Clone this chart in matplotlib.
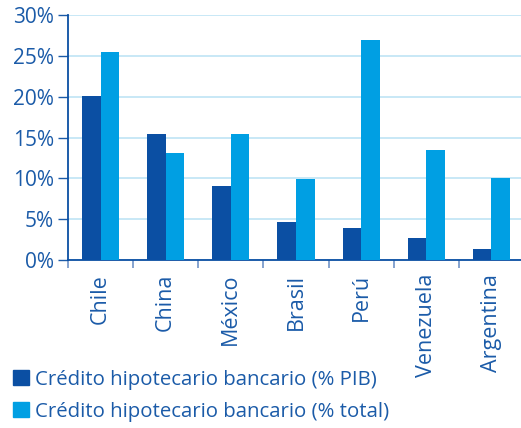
import matplotlib
matplotlib.use("Agg")
import matplotlib.pyplot as plt
import numpy as np
from matplotlib.patches import Patch

categories = ["Chile", "China", "México", "Brasil", "Perú", "Venezuela", "Argentina"]
pct_pib = [20.1, 15.4, 9.1, 4.7, 3.9, 2.7, 1.35]
pct_total = [25.5, 13.1, 15.4, 9.9, 26.9, 13.5, 10.0]
yticks = [0, 5, 10, 15, 20, 25, 30]
series_labels = ["Crédito hipotecario bancario (% PIB)",
                 "Crédito hipotecario bancario (% total)"]

dark = "#0B4FA3"
light = "#009FE3"
text_col = "#1B5BA8"
grid_col = "#C4E6F6"

plt.rcParams["font.family"] = ["Open Sans", "DejaVu Sans"]
fs = 15

fig = plt.figure(figsize=(5.21, 4.28), dpi=100)
ax = fig.add_axes([68 / 521, 1 - 260 / 428, (524 - 68) / 521, 245 / 428])

x = np.arange(len(categories))
w = 0.285
ax.bar(x - w / 2, pct_pib, width=w, color=dark, zorder=3)
ax.bar(x + w / 2, pct_total, width=w, color=light, zorder=3)

ax.set_xlim(-0.5, len(categories) - 0.5)
ax.set_ylim(0, 30)
ax.set_yticks(yticks)
ax.set_yticklabels([f"{v}%" for v in yticks], color=text_col, fontsize=fs)
ax.yaxis.grid(True, color=grid_col, linewidth=1.3, zorder=0)
ax.set_axisbelow(True)

ax.set_xticks(x)
ax.set_xticklabels(categories, rotation=90, color=text_col, fontsize=15.5,
                   va="top", ha="center")
ax.set_xticks(np.arange(len(categories)) - 0.5, minor=True)
ax.tick_params(axis="x", which="major", length=0, pad=10)
ax.tick_params(axis="x", which="minor", length=6, color="#7C9CCB", width=1.3)
ax.tick_params(axis="y", length=7, color=text_col, width=1, pad=3)

for s in ["top", "right"]:
    ax.spines[s].set_visible(False)
for s in ["left", "bottom"]:
    ax.spines[s].set_color(dark)
    ax.spines[s].set_linewidth(1.3)

handles = [Patch(color=dark), Patch(color=light)]
leg = fig.legend(handles, series_labels, loc="lower left",
                 bbox_to_anchor=(3 / 521, -4 / 428), frameon=False,
                 fontsize=14.7, handlelength=0.75, handleheight=0.75,
                 handletextpad=0.3, labelspacing=0.6, borderaxespad=0.1)
for t in leg.get_texts():
    t.set_color(text_col)

fig.savefig("out.png", dpi=100)
